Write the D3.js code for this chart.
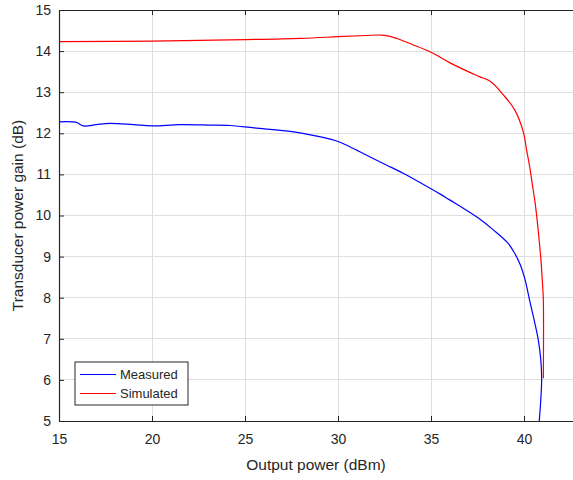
<!DOCTYPE html>
<html>
<head>
<meta charset="utf-8">
<script src="https://cdn.jsdelivr.net/npm/d3@7"></script>
<style>
  html, body { margin: 0; padding: 0; background: #fff; }
  svg { display: block; font-family: "Liberation Sans", Arial, Helvetica, sans-serif; }
</style>
</head>
<body>
<svg id="chart" width="573" height="480"></svg>
<script>
// Output power (dBm) and transducer power gain (dB)
const measuredPout = [15, 15.9, 16.3, 17.0, 17.7, 19.0, 20.0, 21.5, 23.1, 24.2, 25.5, 27.2, 28.1, 29.0, 30.0, 31.0, 31.7, 32.6, 33.5, 34.5, 35.5, 36.0, 36.9, 37.6, 38.35, 39.15, 39.5, 39.8, 40.05, 40.3, 40.55, 40.77, 40.9, 40.95, 40.9, 40.82];
const measuredGain = [12.28, 12.27, 12.18, 12.21, 12.24, 12.21, 12.18, 12.21, 12.2, 12.19, 12.13, 12.06, 12.0, 11.92, 11.80, 11.59, 11.43, 11.23, 11.03, 10.78, 10.52, 10.38, 10.13, 9.92, 9.65, 9.32, 9.08, 8.80, 8.45, 7.94, 7.45, 6.97, 6.5, 6.04, 5.5, 5.0];

const simulatedPout = [15, 20, 25, 28, 30, 31.5, 32.35, 32.8, 33.2, 34.0, 35.0, 36.0, 37.0, 37.6, 38.2, 38.9, 39.5, 39.96, 40.14, 40.3, 40.45, 40.6, 40.75, 40.91, 41.0, 41.04, 41.04];
const simulatedGain = [14.23, 14.245, 14.28, 14.31, 14.35, 14.38, 14.39, 14.36, 14.3, 14.16, 13.97, 13.72, 13.5, 13.38, 13.26, 12.93, 12.57, 12.04, 11.59, 11.2, 10.75, 10.3, 9.7, 8.92, 8.3, 7.94, 6.04];

const xTicks = [15, 20, 25, 30, 35, 40];
const yTicks = [5, 6, 7, 8, 9, 10, 11, 12, 13, 14, 15];
const legendNames = ["Measured", "Simulated"];
const seriesColors = ["#0000ff", "#ff0000"];

const svg = d3.select("#chart");
const plotLeft = 59, plotTop = 10, plotRight = 580, plotBottom = 421;

const x = d3.scaleLinear().domain([15, 43]).range([plotLeft, plotLeft + 28 * 18.6]);
const y = d3.scaleLinear().domain([5, 15]).range([plotBottom, plotTop]);

const axisColor = "#262626";
const gridColor = "#dfdfdf";

// grid lines
const grid = svg.append("g");
grid.selectAll("line.vx").data(xTicks.filter(d => d > 15)).join("line")
  .attr("x1", d => x(d)).attr("x2", d => x(d))
  .attr("y1", plotTop).attr("y2", plotBottom)
  .attr("stroke", gridColor).attr("stroke-width", 1).attr("shape-rendering", "crispEdges");
grid.selectAll("line.hy").data(yTicks.filter(d => d > 5 && d < 15)).join("line")
  .attr("x1", plotLeft).attr("x2", plotRight)
  .attr("y1", d => y(d)).attr("y2", d => y(d))
  .attr("stroke", gridColor).attr("stroke-width", 1).attr("shape-rendering", "crispEdges");

// data lines
const line = d3.line().x(d => x(d[0])).y(d => y(d[1])).curve(d3.curveCatmullRom.alpha(0.5));
const measured = measuredPout.map((p, i) => [p, measuredGain[i]]);
const simulated = simulatedPout.map((p, i) => [p, simulatedGain[i]]);

svg.append("path").datum(measured).attr("d", line)
  .attr("fill", "none").attr("stroke", seriesColors[0]).attr("stroke-width", 1.2)
  .attr("stroke-linejoin", "round");
svg.append("path").datum(simulated).attr("d", line)
  .attr("fill", "none").attr("stroke", seriesColors[1]).attr("stroke-width", 1.2)
  .attr("stroke-linejoin", "round");

// axes (ticks drawn inward)
const xAxis = d3.axisBottom(x).tickValues(xTicks).tickSizeInner(-5).tickSizeOuter(0).tickPadding(13);
const yAxis = d3.axisLeft(y).tickValues(yTicks).tickSizeInner(-5).tickSizeOuter(0).tickPadding(8);
const xTop = d3.axisTop(x).tickValues(xTicks).tickSizeInner(-5).tickSizeOuter(0).tickFormat("");

function styleAxis(g) {
  g.select(".domain").attr("stroke", axisColor).attr("stroke-width", 1.2);
  g.selectAll(".tick line").attr("stroke", axisColor).attr("stroke-width", 1);
  g.selectAll(".tick text").attr("fill", axisColor).style("font-size", "14px")
    .style("font-family", '"Liberation Sans", Arial, Helvetica, sans-serif');
}

svg.append("g").attr("transform", `translate(0,${plotBottom})`).call(xAxis).call(styleAxis);
svg.append("g").attr("transform", `translate(${plotLeft},0)`).call(yAxis).call(styleAxis);
svg.append("g").attr("transform", `translate(0,${plotTop})`).call(xTop).call(styleAxis);

// axis titles
svg.append("text").attr("x", (plotLeft + 573) / 2).attr("y", 470)
  .attr("text-anchor", "middle").attr("fill", axisColor).style("font-size", "15.5px")
  .text("Output power (dBm)");
svg.append("text").attr("transform", `translate(23,${(plotTop + plotBottom) / 2}) rotate(-90)`)
  .attr("text-anchor", "middle").attr("fill", axisColor).style("font-size", "15.5px")
  .text("Transducer power gain (dB)");

// legend
const lg = svg.append("g").attr("transform", "translate(75,362)");
lg.append("rect").attr("width", 113).attr("height", 43)
  .attr("fill", "#fff").attr("stroke", axisColor).attr("stroke-width", 1);
legendNames.forEach((name, i) => {
  const ly = 12.5 + i * 19;
  lg.append("line").attr("x1", 5).attr("x2", 41).attr("y1", ly).attr("y2", ly)
    .attr("stroke", seriesColors[i]).attr("stroke-width", 1.2);
  lg.append("text").attr("x", 45).attr("y", ly + 4.5).attr("fill", axisColor)
    .style("font-size", "13px").text(name);
});
</script>
</body>
</html>
